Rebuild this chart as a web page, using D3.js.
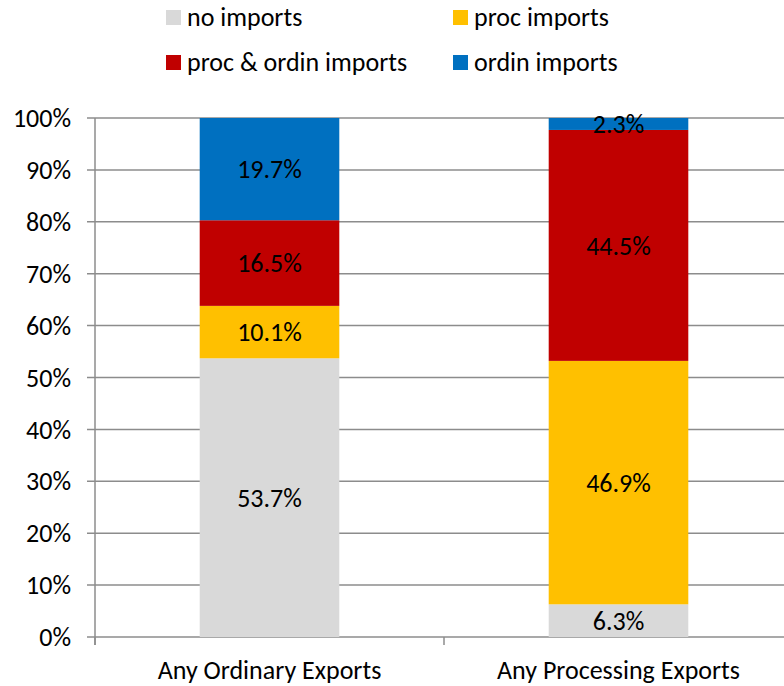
<!DOCTYPE html>
<html>
<head>
<meta charset="utf-8">
<script src="https://cdn.jsdelivr.net/npm/d3@7"></script>
<style>
body { margin: 0; background: #fff; }
text { font-family: Carlito, Lato, "Liberation Sans", sans-serif; }
</style>
</head>
<body>
<svg></svg>
<script>
var categories = ["Any Ordinary Exports", "Any Processing Exports"];
var seriesNames = ["no imports", "proc imports", "proc & ordin imports", "ordin imports"];
var noImports = [53.7, 6.3];
var procImports = [10.1, 46.9];
var procOrdinImports = [16.5, 44.5];
var ordinImports = [19.7, 2.3];
var yTicks = [0, 10, 20, 30, 40, 50, 60, 70, 80, 90, 100];
var colors = ["#d9d9d9", "#ffc000", "#c00000", "#0070c0"];

var screen = {width: 784, height: 686};
var fs = "26px";
var svg = d3.select("svg")
    .attr("width", screen.width)
    .attr("height", screen.height);

// build rows for the stack
var table = categories.map(function(c, i) {
    return {cat: c, s0: noImports[i], s1: procImports[i], s2: procOrdinImports[i], s3: ordinImports[i]};
});
var keys = ["s0", "s1", "s2", "s3"];
var stacked = d3.stack().keys(keys)(table);

var xScale = d3.scaleBand()
    .domain(categories)
    .range([95, 793])
    .paddingInner(0.6)
    .paddingOuter(0.3);

var yScale = d3.scaleLinear()
    .domain([0, 100])
    .range([637, 118]);

// gridlines
svg.append("g")
    .selectAll("line")
    .data(yTicks)
    .enter()
    .append("line")
    .attr("x1", 87)
    .attr("x2", screen.width)
    .attr("y1", function(d) { return yScale(d); })
    .attr("y2", function(d) { return yScale(d); })
    .attr("stroke", "#8c8c8c")
    .attr("stroke-width", 1.5);

// y axis line
svg.append("line")
    .attr("x1", 95).attr("x2", 95)
    .attr("y1", yScale(100)).attr("y2", yScale(0) + 8)
    .attr("stroke", "#8c8c8c")
    .attr("stroke-width", 1.5);

// category separator ticks
var bounds = [95, 95 + xScale.step()];
svg.append("g")
    .selectAll("line")
    .data(bounds)
    .enter()
    .append("line")
    .attr("x1", function(d) { return d; })
    .attr("x2", function(d) { return d; })
    .attr("y1", yScale(0))
    .attr("y2", yScale(0) + 8)
    .attr("stroke", "#8c8c8c")
    .attr("stroke-width", 1.5);

// y tick labels
svg.append("g")
    .selectAll("text")
    .data(yTicks)
    .enter()
    .append("text")
    .attr("x", 71)
    .attr("y", function(d) { return yScale(d); })
    .attr("dy", "0.35em")
    .attr("text-anchor", "end")
    .attr("font-size", fs)
    .attr("fill", "#000")
    .text(function(d) { return d + "%"; });

// bars
var layers = svg.append("g")
    .selectAll("g")
    .data(stacked)
    .enter()
    .append("g")
    .attr("fill", function(d, i) { return colors[i]; });

layers.selectAll("rect")
    .data(function(d) { return d; })
    .enter()
    .append("rect")
    .attr("x", function(d) { return xScale(d.data.cat); })
    .attr("width", xScale.bandwidth())
    .attr("y", function(d) { return yScale(d[1]); })
    .attr("height", function(d) { return yScale(d[0]) - yScale(d[1]); });

layers.selectAll("text")
    .data(function(d) { return d; })
    .enter()
    .append("text")
    .attr("x", function(d) { return xScale(d.data.cat) + xScale.bandwidth() / 2; })
    .attr("y", function(d) { return yScale((d[0] + d[1]) / 2); })
    .attr("dy", "0.35em")
    .attr("text-anchor", "middle")
    .attr("font-size", fs)
    .attr("fill", "#000")
    .text(function(d) { return (d[1] - d[0]).toFixed(1) + "%"; });

// category labels
svg.append("g")
    .selectAll("text")
    .data(categories)
    .enter()
    .append("text")
    .attr("x", function(d) { return xScale(d) + xScale.bandwidth() / 2; })
    .attr("y", 679)
    .attr("text-anchor", "middle")
    .attr("font-size", fs)
    .attr("fill", "#000")
    .text(function(d) { return d; });

// legend
var legendPos = [[166, 17], [453, 17], [166, 62], [453, 62]];
var legend = svg.append("g")
    .selectAll("g")
    .data(seriesNames)
    .enter()
    .append("g")
    .attr("transform", function(d, i) { return "translate(" + legendPos[i][0] + "," + legendPos[i][1] + ")"; });

legend.append("rect")
    .attr("x", 0)
    .attr("y", -7)
    .attr("width", 15)
    .attr("height", 15)
    .attr("fill", function(d, i) { return colors[i]; });

legend.append("text")
    .attr("x", 21)
    .attr("y", 0)
    .attr("dy", "0.35em")
    .attr("font-size", fs)
    .attr("fill", "#000")
    .text(function(d) { return d; });
</script>
</body>
</html>
